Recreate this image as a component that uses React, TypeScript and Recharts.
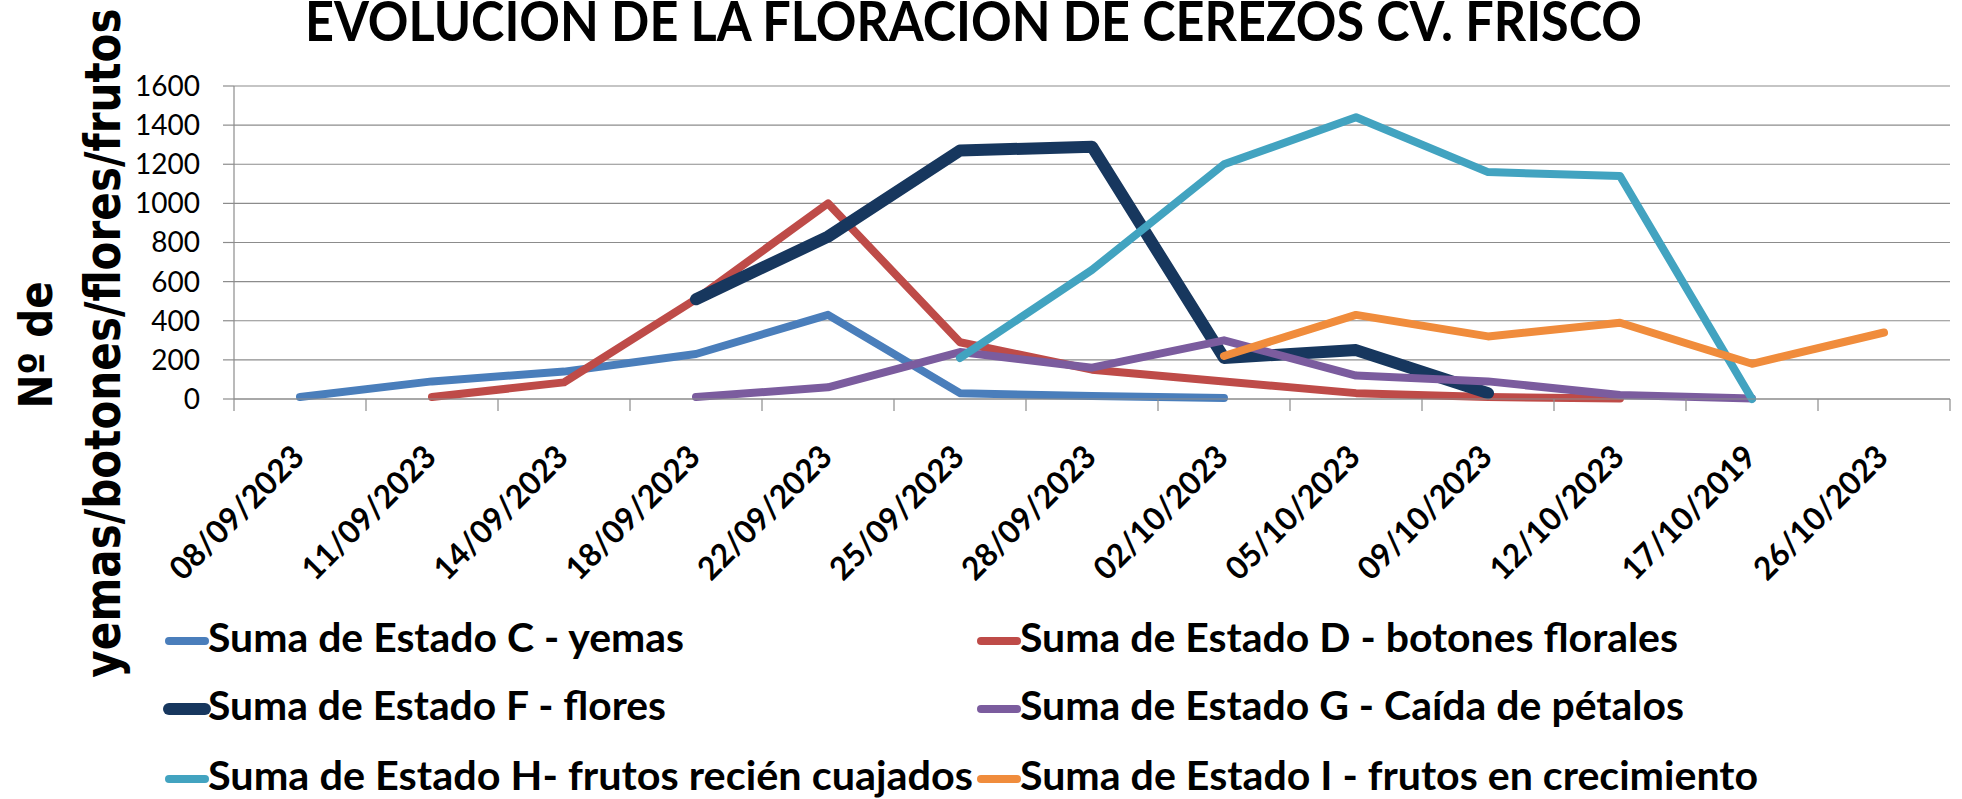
import React from 'react';
import { LineChart, Line, XAxis, YAxis, CartesianGrid } from 'recharts';

const W = 1962;
const H = 799;
const PLOT_LEFT = 234;
const PLOT_RIGHT = 1950;
const PLOT_TOP = 86;
const PLOT_BOTTOM = 399;
const PLOT_W = PLOT_RIGHT - PLOT_LEFT;

// fechas de muestreo (tal cual en el gráfico original, incluido el 2019)
const dates = [
  '08/09/2023', '11/09/2023', '14/09/2023', '18/09/2023', '22/09/2023', '25/09/2023', '28/09/2023',
  '02/10/2023', '05/10/2023', '09/10/2023', '12/10/2023', '17/10/2019', '26/10/2023',
];
const yTicks = [0, 200, 400, 600, 800, 1000, 1200, 1400, 1600];

const estadoC = [10, 90, 140, 230, 430, 30, 15, 5, null, null, null, null, null];
const estadoD = [null, 10, 85, 510, 1000, 290, 150, 90, 30, 10, 3, null, null];
const estadoF = [null, null, null, 510, 830, 1270, 1290, 210, 250, 30, null, null, null];
const estadoG = [null, null, null, 10, 60, 240, 160, 300, 120, 90, 20, 3, null];
const estadoH = [null, null, null, null, null, 210, 660, 1200, 1440, 1160, 1140, 0, null];
const estadoI = [null, null, null, null, null, null, null, 220, 430, 320, 390, 180, 340];

const SERIES = [
  { key: 'c', name: 'Suma de Estado C - yemas', color: '#4A7EBB', values: estadoC, width: 8, textLen: 476 },
  { key: 'd', name: 'Suma de Estado D - botones florales', color: '#BE4B48', values: estadoD, width: 8, textLen: 658 },
  { key: 'f', name: 'Suma de Estado F - flores', color: '#17375E', values: estadoF, width: 12, textLen: 458 },
  { key: 'g', name: 'Suma de Estado G - Caída de pétalos', color: '#7B5C9E', values: estadoG, width: 8, textLen: 664 },
  { key: 'h', name: 'Suma de Estado H- frutos recién cuajados', color: '#42A3C0', values: estadoH, width: 8, textLen: 765 },
  { key: 'i', name: 'Suma de Estado I - frutos en crecimiento', color: '#F08C3C', values: estadoI, width: 8, textLen: 738 },
];

const data = dates.map((d, i) => {
  const row: Record<string, any> = { date: d };
  SERIES.forEach((s) => { row[s.key] = s.values[i]; });
  return row;
});

const GRID = '#8c8c8c';

const DateTick = (props: any) => {
  const { x, y, payload } = props;
  const idx = dates.indexOf(payload.value);
  const half = PLOT_W / dates.length / 2;
  const axisY = y - 12;
  const tx = x + 6;
  const ty = y + 48;
  return (
    <g>
      <line x1={x - half} y1={axisY} x2={x - half} y2={axisY + 12} stroke={GRID} strokeWidth={1.2} />
      {idx === dates.length - 1 && (
        <line x1={x + half} y1={axisY} x2={x + half} y2={axisY + 12} stroke={GRID} strokeWidth={1.2} />
      )}
      <text
        x={tx}
        y={ty}
        textAnchor="end"
        transform={`rotate(-45, ${tx}, ${ty})`}
        fontFamily="Lato"
        fontWeight={700}
        fontSize={32}
        fill="#000"
        textLength={174}
        lengthAdjust="spacingAndGlyphs"
      >
        {payload.value}
      </text>
    </g>
  );
};

const legendCols = [165, 977];
const legendRows = [652, 720, 790];

export default function App() {
  return (
    <div style={{ position: 'absolute', left: 0, top: 0, width: W, height: H, background: '#fff', overflow: 'hidden' }}>
      <LineChart
        width={W}
        height={H}
        data={data}
        margin={{ top: PLOT_TOP, right: W - PLOT_RIGHT, left: PLOT_LEFT - 60, bottom: H - PLOT_BOTTOM - 60 }}
      >
        <CartesianGrid vertical={false} stroke={GRID} strokeWidth={1.2} />
        <XAxis
          dataKey="date"
          scale="band"
          height={60}
          interval={0}
          axisLine={{ stroke: GRID, strokeWidth: 1.2 }}
          tickLine={false}
          tickSize={12}
          tickMargin={0}
          tick={<DateTick />}
        />
        <YAxis
          type="number"
          domain={[0, 1600]}
          ticks={yTicks}
          width={60}
          interval={0}
          axisLine={{ stroke: GRID, strokeWidth: 1.2 }}
          tickLine={{ stroke: GRID, strokeWidth: 1.2 }}
          tickSize={11}
          tickMargin={23}
          tick={{ fontFamily: 'Lato', fontSize: 28, fill: '#000' }}
        />
        {SERIES.map((s) => (
          <Line
            key={s.key}
            type="linear"
            dataKey={s.key}
            name={s.name}
            stroke={s.color}
            strokeWidth={s.width}
            strokeLinecap="round"
            strokeLinejoin="round"
            dot={false}
            activeDot={false}
            connectNulls={false}
            isAnimationActive={false}
          />
        ))}
      </LineChart>

      <svg width={W} height={H} style={{ position: 'absolute', left: 0, top: 0, pointerEvents: 'none' }}>
        <text x={305} y={41} fontFamily="Lato" fontWeight={700} fontSize={56} fill="#000" textLength={1337} lengthAdjust="spacingAndGlyphs">
          EVOLUCION DE LA FLORACION DE CEREZOS CV. FRISCO
        </text>

        {/* título del eje Y, dos líneas giradas */}
        <text transform="translate(52, 345) rotate(-90) scale(0.88, 1)" textAnchor="middle" fontFamily="DejaVu Sans" fontWeight={700} fontSize={46} fill="#000">
          Nº de
        </text>
        <text transform="translate(120, 343) rotate(-90) scale(0.86, 1)" textAnchor="middle" fontFamily="DejaVu Sans" fontWeight={700} fontSize={49} fill="#000">
          yemas/botones/flores/frutos
        </text>

        {SERIES.map((s, i) => {
          const x = legendCols[i % 2];
          const y = legendRows[Math.floor(i / 2)];
          return (
            <g key={s.key}>
              <line x1={x + 4} y1={y - 11} x2={x + 40} y2={y - 11} stroke={s.color} strokeWidth={s.key === 'f' ? 12 : 8} strokeLinecap="round" />
              <text x={x + 43} y={y} fontFamily="Lato" fontWeight={700} fontSize={40} fill="#000" textLength={s.textLen} lengthAdjust="spacingAndGlyphs">
                {s.name}
              </text>
            </g>
          );
        })}
      </svg>
    </div>
  );
}
